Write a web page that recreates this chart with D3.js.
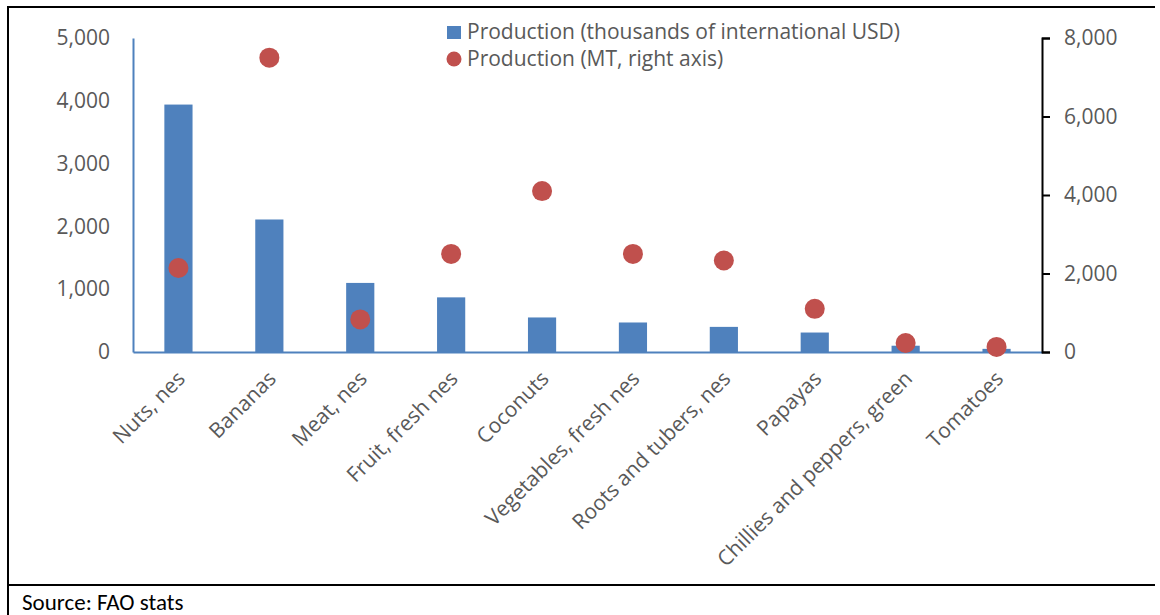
<!DOCTYPE html>
<html>
<head>
<meta charset="utf-8">
<script src="https://cdn.jsdelivr.net/npm/d3@7"></script>
<style>
  body { margin: 0; background: #fff; }
  text { font-family: "Open Sans", sans-serif; fill: #595959; }
</style>
</head>
<body>
<div class="chart"></div>
<script>
var categories = ["Nuts, nes", "Bananas", "Meat, nes", "Fruit, fresh nes", "Coconuts",
  "Vegetables, fresh nes", "Roots and tubers, nes", "Papayas", "Chillies and peppers, green", "Tomatoes"];
var valueUSD = [3940, 2110, 1100, 870, 550, 470, 400, 310, 100, 50];
var volumeMT = [2140, 7500, 830, 2500, 4100, 2500, 2330, 1100, 230, 130];
var leftTicks = [0, 1000, 2000, 3000, 4000, 5000];
var rightTicks = [0, 2000, 4000, 6000, 8000];

var svgWidth = 1160;
var svgHeight = 615;

var margin = { top: 38, right: 118, bottom: 263, left: 133 };
var width = svgWidth - margin.left - margin.right;
var height = svgHeight - margin.top - margin.bottom;

var svg = d3.select(".chart")
  .append("svg")
  .attr("width", svgWidth)
  .attr("height", svgHeight);

// frame lines (table border around chart)
svg.append("line").attr("x1", 8).attr("x2", 8).attr("y1", 6).attr("y2", 615)
  .attr("stroke", "#000").attr("stroke-width", 2);
svg.append("line").attr("x1", 7).attr("x2", 1155).attr("y1", 7).attr("y2", 7)
  .attr("stroke", "#000").attr("stroke-width", 2);
svg.append("line").attr("x1", 7).attr("x2", 1155).attr("y1", 585).attr("y2", 585)
  .attr("stroke", "#000").attr("stroke-width", 2);

var chartGroup = svg.append("g")
  .attr("transform", `translate(${margin.left}, ${margin.top})`);

var fmt = d3.format(",");

// scales
var xBand = d3.scaleBand().domain(categories).range([0, width]);
var yLeft = d3.scaleLinear().domain([0, 5000]).range([height, 0]);
var yRight = d3.scaleLinear().domain([0, 8000]).range([height, 0]);

// bars
var barW = xBand.bandwidth() * 0.31;
chartGroup.selectAll("rect.bar")
  .data(valueUSD)
  .enter()
  .append("rect")
  .attr("class", "bar")
  .attr("x", (d, i) => xBand(categories[i]) + xBand.bandwidth() / 2 - barW / 2)
  .attr("width", barW)
  .attr("y", d => yLeft(d))
  .attr("height", d => height - yLeft(d))
  .attr("fill", "#4f81bd");

// left axis
var leftAxis = d3.axisLeft(yLeft).tickValues(leftTicks).tickFormat(fmt).tickSize(0).tickPadding(23);
var gl = chartGroup.append("g").call(leftAxis);
gl.select(".domain").attr("stroke", "#4f81bd").attr("stroke-width", 2);
gl.selectAll("text").attr("font-size", 21).attr("font-family", "Open Sans").attr("fill", "#595959");

// bottom axis line
var bottomAxis = d3.axisBottom(xBand).tickSize(0).tickFormat("");
var gb = chartGroup.append("g").attr("transform", `translate(0, ${height})`).call(bottomAxis);
gb.select(".domain").attr("stroke", "#4f81bd").attr("stroke-width", 2);

// category labels rotated
chartGroup.selectAll("text.cat")
  .data(categories)
  .enter()
  .append("text")
  .attr("class", "cat")
  .attr("text-anchor", "end")
  .attr("font-size", 21)
  .attr("transform", d => `translate(${xBand(d) + xBand.bandwidth() / 2 + 8}, ${height + 28}) rotate(-45)`)
  .text(d => d);

// right axis
var rightAxis = d3.axisRight(yRight).tickValues(rightTicks).tickFormat(fmt).tickSize(8).tickPadding(14);
var gr = chartGroup.append("g").attr("transform", `translate(${width}, 0)`).call(rightAxis);
gr.select(".domain").attr("stroke", "#000").attr("stroke-width", 2);
gr.selectAll("line").attr("stroke", "#000").attr("stroke-width", 2);
gr.selectAll("text").attr("font-size", 21).attr("font-family", "Open Sans").attr("fill", "#595959");

// dots
chartGroup.selectAll("circle.dot")
  .data(volumeMT)
  .enter()
  .append("circle")
  .attr("class", "dot")
  .attr("cx", (d, i) => xBand(categories[i]) + xBand.bandwidth() / 2)
  .attr("cy", d => yRight(d))
  .attr("r", 10)
  .attr("fill", "#c0504d");

// legend
var legend = svg.append("g").attr("transform", "translate(447, 0)");
legend.append("rect").attr("x", 0).attr("y", 26).attr("width", 14).attr("height", 13).attr("fill", "#4f81bd");
legend.append("text").attr("x", 20).attr("y", 39).attr("font-size", 21)
  .text("Production (thousands of international USD)");
legend.append("circle").attr("cx", 7).attr("cy", 59).attr("r", 7.5).attr("fill", "#c0504d");
legend.append("text").attr("x", 20).attr("y", 66).attr("font-size", 21)
  .text("Production (MT, right axis)");

// source
svg.append("text")
  .attr("x", 22)
  .attr("y", 610)
  .attr("font-size", 23)
  .style("font-family", "Carlito, 'Liberation Sans', sans-serif")
  .style("fill", "#000")
  .text("Source: FAO stats");
</script>
</body>
</html>
